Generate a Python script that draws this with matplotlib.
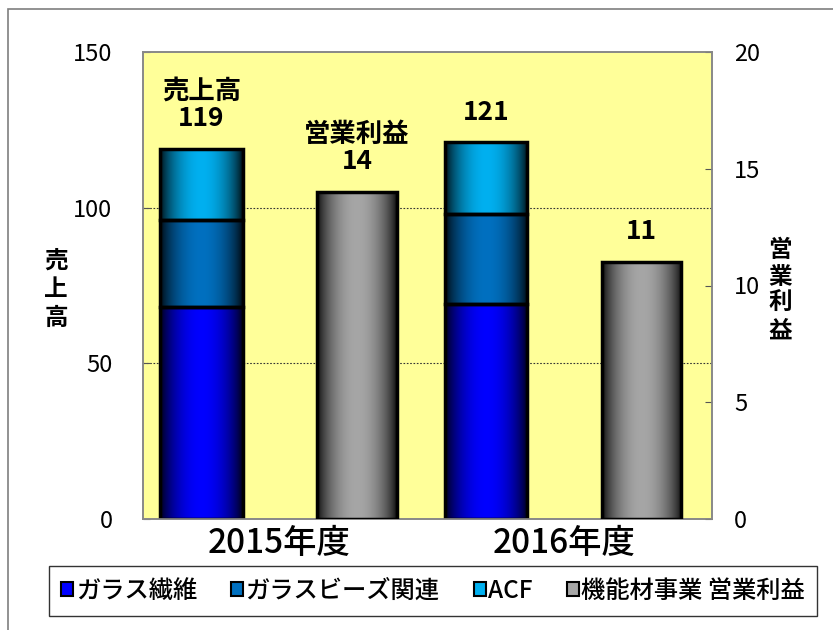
import numpy as np
import matplotlib
matplotlib.use("Agg")
import matplotlib.pyplot as plt
from matplotlib.patches import Rectangle, Patch
from matplotlib.colors import to_rgb

plt.rcParams['font.family'] = ['Noto Sans CJK JP', 'DejaVu Sans']

# ---- data ----
categories = ['2015年度', '2016年度']
glass = [68, 69]
beads = [28, 29]
acf = [23, 23]
profit = [14, 11]
series_names = ['ガラス繊維', 'ガラスビーズ関連', 'ACF', '機能材事業 営業利益']
series_colors = ['#0000FF', '#0070C0', '#00B0F0', '#A6A6A6']
sales_labels = ['売上高\n{}', '{}']
profit_labels = ['営業利益\n{}', '{}']
left_ticks = [0, 50, 100, 150]
right_ticks = [0, 5, 10, 15, 20]

W, H = 833, 630
fig = plt.figure(figsize=(W / 100, H / 100), dpi=100)
fig.patch.set_facecolor('white')

# outer frame (only top and left visible)
fig.patches.append(Rectangle((8 / W, -0.1), 1.2, 1 - 9 / H + 0.1, transform=fig.transFigure,
                             fill=False, edgecolor='#7f7f7f', linewidth=1.2))

ax = fig.add_axes([143 / W, 1 - 519 / H, (712 - 143) / W, (519 - 52) / H])
ax.set_facecolor('#FFFF99')
ax2 = ax.twinx()

x = np.arange(len(categories))
sales_off, sales_w = 0.205, 0.29
prof_off, prof_w = 0.752, 0.28


def grad_fill(axis, patch, color):
    xx, yy = patch.get_x(), patch.get_y()
    w, h = patch.get_width(), patch.get_height()
    t = np.linspace(0, 1, 256)
    f = np.clip(np.sin(np.pi * t) ** 0.7, 0, 1)
    f = 0.03 + 0.97 * f
    c = np.array(to_rgb(color))
    img = (f[:, None] * c[None, :])[None, :, :]
    im = axis.imshow(img, extent=[xx, xx + w, yy, yy + h], aspect='auto',
                     interpolation='bilinear', zorder=patch.get_zorder() - 0.1)
    im.set_clip_path(patch)


bottoms = np.zeros(len(categories))
for vals, col in zip([glass, beads, acf], series_colors[:3]):
    bars = ax.bar(x + sales_off, vals, sales_w, bottom=bottoms, color='none',
                  edgecolor='black', linewidth=2.5, zorder=3)
    for b in bars:
        grad_fill(ax, b, col)
    bottoms = bottoms + np.array(vals)

pbars = ax2.bar(x + prof_off, profit, prof_w, color='none', edgecolor='black',
                linewidth=2.5, zorder=3)
for b in pbars:
    grad_fill(ax2, b, series_colors[3])

ax.set_xlim(0, 2)
ax.set_ylim(0, 150)
ax2.set_ylim(0, 20)

# gridlines
for g in [50, 100]:
    ax.axhline(g, color='#333333', linewidth=0.8, linestyle=(0, (1.5, 1.5)), zorder=1)

# value labels
for i, tot in enumerate(bottoms):
    ax.annotate(sales_labels[i].format(int(tot)), (x[i] + sales_off, tot),
                xytext=(0, 12), textcoords='offset points', ha='center', va='bottom',
                fontsize=19, fontweight='bold', linespacing=1.0)
for i, p in enumerate(profit):
    ax2.annotate(profit_labels[i].format(p), (x[i] + prof_off, p),
                 xytext=(0, 12), textcoords='offset points', ha='center', va='bottom',
                 fontsize=19, fontweight='bold', linespacing=1.0)

# axes styling
ax.set_xticks(x + 0.48)
ax.set_xticklabels(categories, fontsize=24, fontweight='medium')
ax.tick_params(axis='x', length=0, pad=5)
ax.set_yticks(left_ticks)
ax.tick_params(axis='y', direction='in', length=5, color='#555555', labelsize=17, pad=22)
ax2.set_yticks(right_ticks)
ax2.tick_params(axis='y', direction='in', length=5, color='#555555', labelsize=17, pad=16)
for a in (ax, ax2):
    for s in a.spines.values():
        s.set_color('#888888')
        s.set_linewidth(1.2)
ax2.set_ylim(0, 20)
ax.set_ylim(0, 150)
ax.set_xlim(0, 2)
ax2.set_xlim(0, 2)

fig.text(56 / W, 1 - 289 / H, '売\n上\n高', ha='center', va='center', fontsize=17,
         fontweight='bold', linespacing=1.25)
fig.text(780 / W, 1 - 290 / H, '営\n業\n利\n益', ha='center', va='center', fontsize=17,
         fontweight='bold', linespacing=1.15)

# legend
handles = [Patch(facecolor=c, edgecolor='black', linewidth=1.5) for c in series_colors]
leg = fig.legend(handles, series_names, loc='center',
                 bbox_to_anchor=(433 / W, 1 - 591 / H), ncol=4, fontsize=17.5,
                 frameon=True, fancybox=False, edgecolor='black', handlelength=0.5,
                 handleheight=0.5, handletextpad=0.1, columnspacing=1.4,
                 borderpad=0.5, borderaxespad=0)
leg.get_frame().set_linewidth(1.0)
for t in leg.get_texts():
    t.set_fontweight('medium')

fig.savefig('out.png', dpi=100)
